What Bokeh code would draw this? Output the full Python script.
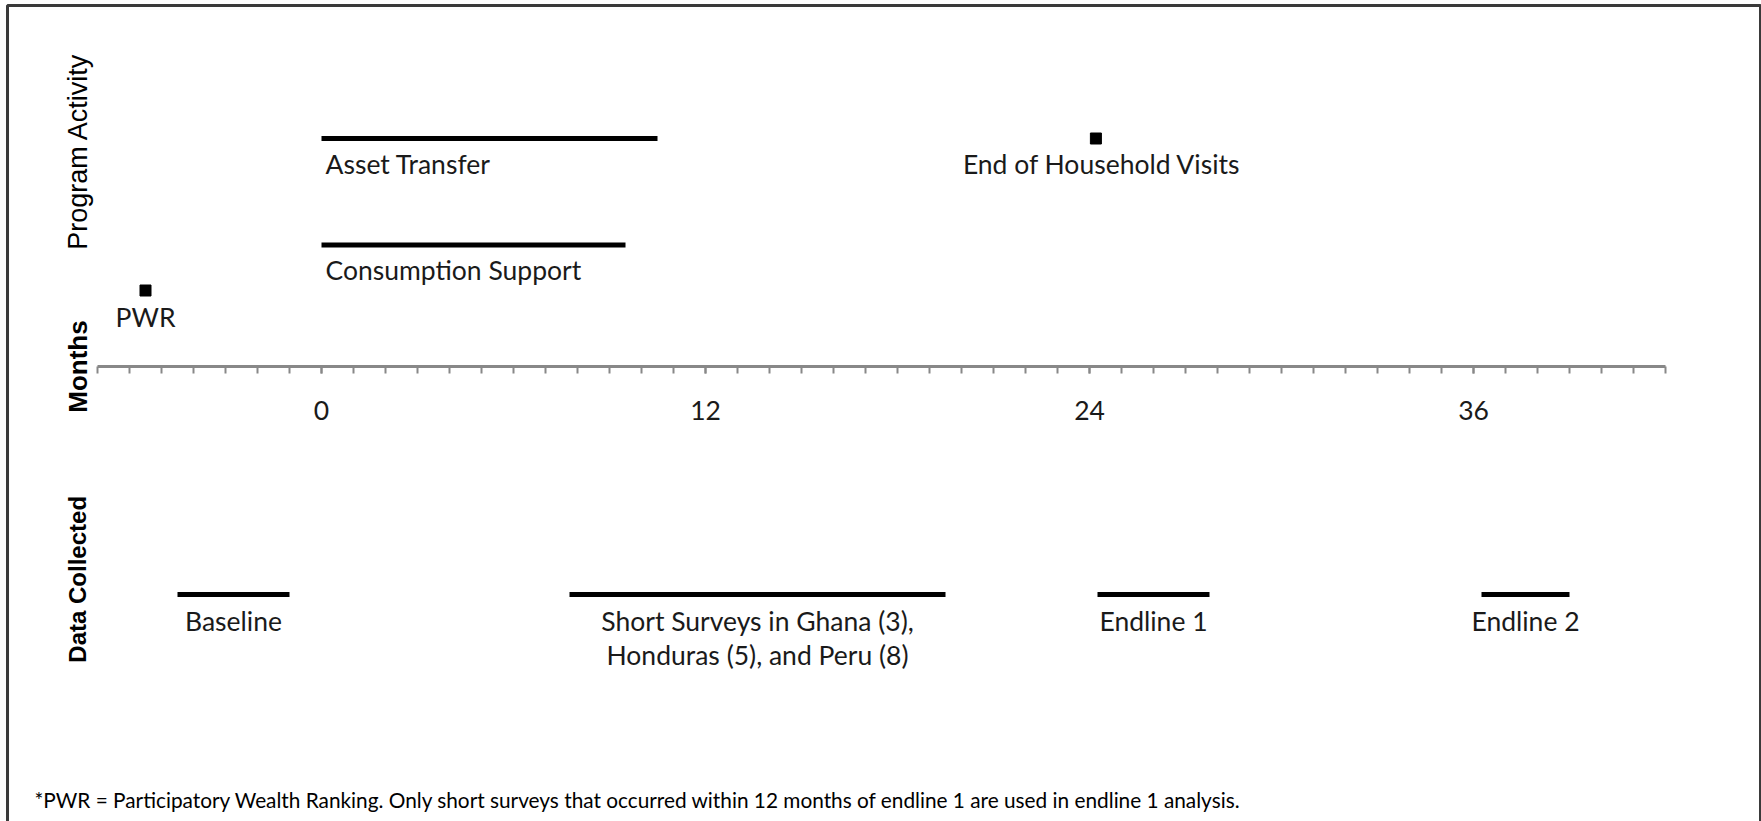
import math
from bokeh.plotting import figure
from bokeh.models import Range1d, SingleIntervalTicker, Label, BoxAnnotation, ColumnDataSource
from bokeh.core.properties import value
from bokeh.embed import file_html
from bokeh.resources import INLINE

# ---------------- data ----------------
span_labels = ["Asset Transfer", "Consumption Support"]
span_start = [0.0, 0.0]
span_end = [10.5, 9.5]
span_level = [3.0, 1.6]

point_labels = ["PWR", "End of Household Visits"]
point_month = [-5.5, 24.2]
point_level = [1.0, 3.0]

data_labels = ["Baseline",
               "Short Surveys in Ghana (3),\nHonduras (5), and Peru (8)",
               "Endline 1", "Endline 2"]
data_start = [-4.5, 7.75, 24.25, 36.25]
data_end = [-1.0, 19.5, 27.75, 39.0]
data_level = [-3.0, -3.0, -3.0, -3.0]

axis_bounds = (-7, 42)
tick_interval = 12
section_titles = ["Program Activity", "Months", "Data Collected"]
section_levels = [2.83, 0.0, -2.8]
section_styles = ["normal", "bold", "bold"]
section_sizes = ["27px", "26px", "24px"]
footnote = ("*PWR = Participatory Wealth Ranking. Only short surveys that occurred "
            "within 12 months of endline 1 are used in endline 1 analysis.")

# ---------------- layout ----------------
W, H = 1761, 821
PX_PER_MONTH = 32.0
PX_PER_UNIT = 76.0
x_start = -321 / PX_PER_MONTH
y_end = 366 / PX_PER_UNIT
x_range = Range1d(x_start, x_start + W / PX_PER_MONTH)
y_range = Range1d(y_end - H / PX_PER_UNIT, y_end)

LABEL_FONT = "Lato"
LABEL_SIZE = "26.5px"
TEXT_COLOR = "#1a1a1a"

p = figure(width=W, height=H, x_range=x_range, y_range=y_range,
           output_backend="svg", toolbar_location=None,
           x_axis_location="below", y_axis_location=None,
           min_border=0, min_border_left=0, min_border_right=0,
           min_border_top=0, min_border_bottom=0)
p.grid.visible = False
p.outline_line_color = None
p.background_fill_color = "white"
p.border_fill_color = "white"

# the months axis, drawn through the middle of the chart
ax = p.xaxis[0]
ax.fixed_location = 0
ax.bounds = axis_bounds
ax.ticker = SingleIntervalTicker(interval=tick_interval, num_minor_ticks=tick_interval)
ax.axis_line_color = "#888888"
ax.axis_line_width = 3
ax.major_tick_line_color = "#888888"
ax.major_tick_line_width = 2
ax.major_tick_in = 0
ax.major_tick_out = 7
ax.minor_tick_line_color = "#888888"
ax.minor_tick_line_width = 2
ax.minor_tick_in = 0
ax.minor_tick_out = 7
ax.major_label_text_font = LABEL_FONT
ax.major_label_text_font_size = LABEL_SIZE
ax.major_label_text_color = TEXT_COLOR
ax.major_label_standoff = 27

# program activity spans
span_src = ColumnDataSource(dict(x0=span_start, x1=span_end, y=span_level, label=span_labels))
p.segment(x0="x0", y0="y", x1="x1", y1="y", source=span_src,
          line_width=5, line_color="black", line_cap="butt")
p.text(x="x0", y="y", text="label", source=span_src, x_offset=4, y_offset=25,
       text_align="left", text_baseline="alphabetic",
       text_font=value(LABEL_FONT), text_font_size=LABEL_SIZE, text_color=TEXT_COLOR)

# point events
pt_src = ColumnDataSource(dict(x=point_month, y=point_level, label=point_labels,
                               dy=[26, 25], dx=[0, 6]))
p.scatter(x="x", y="y", source=pt_src, marker="square", size=11,
          fill_color="black", line_color="black")
p.text(x="x", y="y", text="label", source=pt_src, x_offset="dx", y_offset="dy",
       text_align="center", text_baseline="alphabetic",
       text_font=value(LABEL_FONT), text_font_size=LABEL_SIZE, text_color=TEXT_COLOR)

# data collection spans
mid = [(a + b) / 2 for a, b in zip(data_start, data_end)]
d_src = ColumnDataSource(dict(x0=data_start, x1=data_end, xm=mid, y=data_level, label=data_labels))
p.segment(x0="x0", y0="y", x1="x1", y1="y", source=d_src,
          line_width=5, line_color="black", line_cap="butt")
p.text(x="xm", y="y", text="label", source=d_src, y_offset=10,
       text_align="center", text_baseline="top", text_line_height=1.08,
       text_font=value(LABEL_FONT), text_font_size=LABEL_SIZE, text_color=TEXT_COLOR)

# section titles (rotated)
for t, lvl, st, sz in zip(section_titles, section_levels, section_styles, section_sizes):
    p.add_layout(Label(x=x_start, y=lvl, x_offset=77, text=t, angle=math.pi / 2,
                       text_align="center", text_baseline="middle",
                       text_font="Liberation Sans", text_font_size=sz,
                       text_font_style=st, text_color="black"))

# footnote
p.add_layout(Label(x=x_start, y=y_range.start, x_offset=34, y_offset=22, text=footnote,
                   text_align="left", text_baseline="alphabetic",
                   text_font=LABEL_FONT, text_font_size="20.8px", text_color="black"))

# frame border (bottom edge lies outside the view, as in the reference)
p.add_layout(BoxAnnotation(left=x_start + 7 / PX_PER_MONTH,
                           right=x_start + 1760 / PX_PER_MONTH,
                           top=y_end - 5 / PX_PER_UNIT,
                           bottom=y_range.start - 1,
                           fill_alpha=0, fill_color=None,
                           line_color="#3a3a3a", line_alpha=1.0,
                           line_dash="solid", line_width=3))

open("out.html", "w").write(file_html(p, INLINE))
